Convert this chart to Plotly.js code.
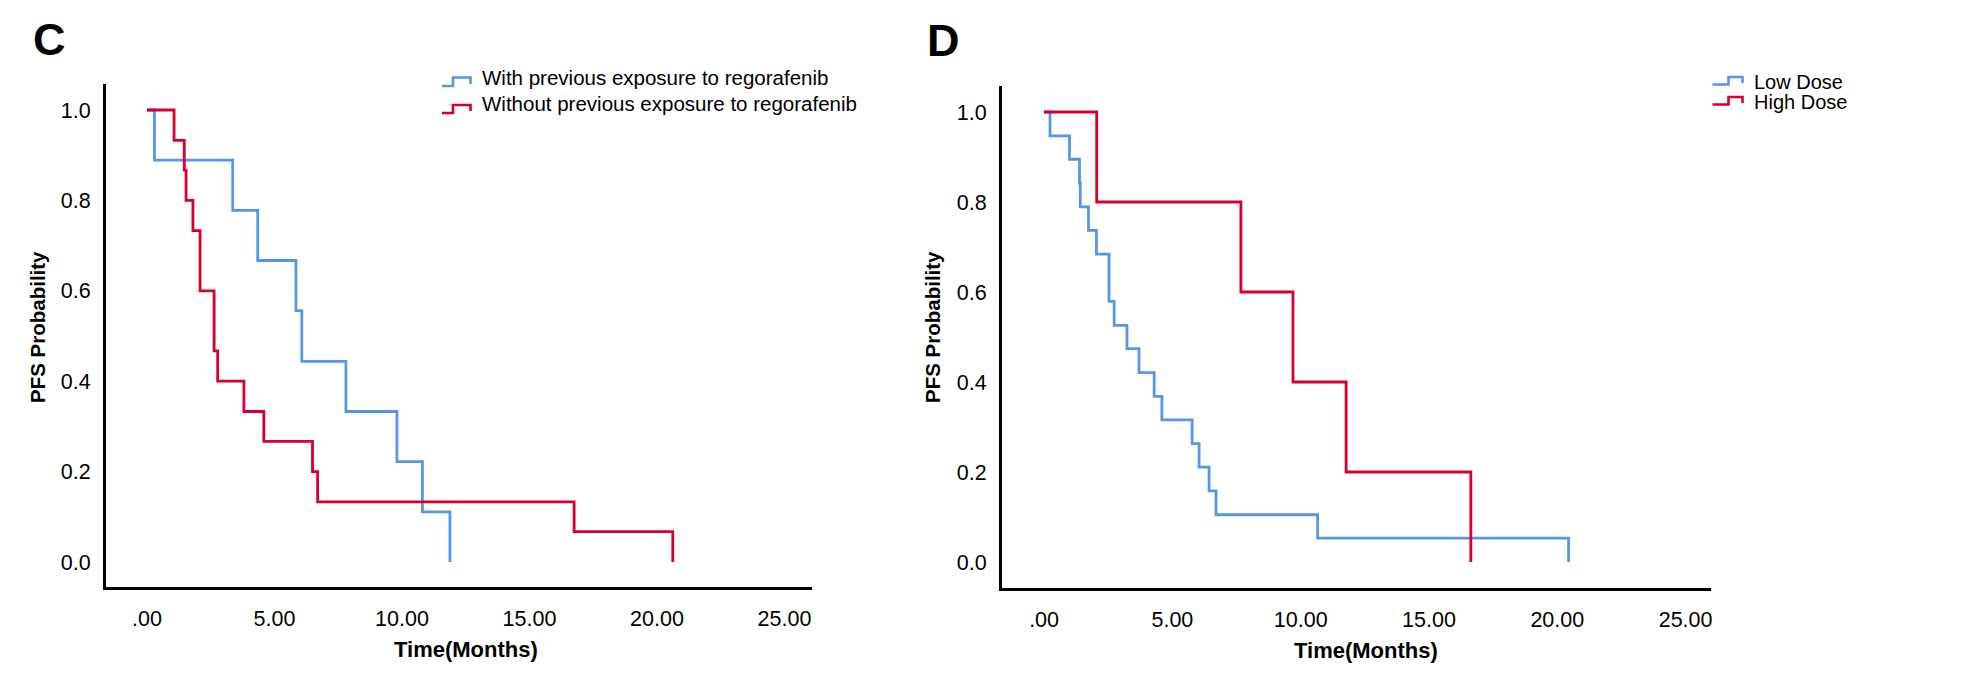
<!DOCTYPE html>
<html>
<head>
<meta charset="utf-8">
<script src="https://cdn.plot.ly/plotly-3.0.1.min.js"></script>
<style>
html,body{margin:0;padding:0;background:#fff;}
#chart{width:1986px;height:673px;}
</style>
</head>
<body>
<div id="chart"></div>
<script>
// ---- Data ----
const panelLetters = ['C', 'D'];
const xTickVals = [0, 5, 10, 15, 20, 25];
const xTickText = ['.00', '5.00', '10.00', '15.00', '20.00', '25.00'];
const yTickVals = [0, 0.2, 0.4, 0.6, 0.8, 1.0];
const yTickText = ['0.0', '0.2', '0.4', '0.6', '0.8', '1.0'];
const xTitle = 'Time(Months)';
const yTitle = 'PFS Probability';

// Panel C
const cSeriesNames = ['With previous exposure to regorafenib', 'Without previous exposure to regorafenib'];
const cWithTime = [0, 0.29, 3.36, 4.34, 5.84, 6.07, 7.80, 9.80, 10.80, 11.88];
const cWithSurv = [1, 0.889, 0.778, 0.667, 0.556, 0.444, 0.333, 0.222, 0.111, 0];
const cWithoutTime = [0, 1.06, 1.46, 1.53, 1.80, 2.08, 2.63, 2.77, 3.80, 4.58, 6.49, 6.69, 16.75, 20.62];
const cWithoutSurv = [1, 0.933, 0.867, 0.8, 0.733, 0.6, 0.467, 0.4, 0.333, 0.267, 0.2, 0.133, 0.067, 0];

// Panel D
const dSeriesNames = ['Low Dose', 'High Dose'];
const dLowTime = [0, 0.23, 0.99, 1.38, 1.41, 1.73, 2.04, 2.53, 2.73, 3.23, 3.70, 4.29, 4.59, 5.77, 6.04, 6.43, 6.70, 10.66, 20.44];
const dLowSurv = [1, 0.947, 0.895, 0.842, 0.789, 0.737, 0.684, 0.579, 0.526, 0.474, 0.421, 0.368, 0.316, 0.263, 0.211, 0.158, 0.105, 0.053, 0];
const dHighTime = [0, 2.05, 7.67, 9.70, 11.77, 16.63];
const dHighSurv = [1, 0.8, 0.6, 0.4, 0.2, 0];

// ---- Styling ----
const W = 1986, H = 673;
const BLUE = '#5597e6';
const RED = '#d5002f';
const FONT = '"Liberation Sans", Arial, Helvetica, sans-serif';
const LW = 2.8;
const px = x => x / W;
const py = y => 1 - y / H;

function stepTrace(x, y, color, xa, ya, name) {
  return {
    x: x, y: y, type: 'scatter', mode: 'lines', name: name,
    line: {shape: 'hv', color: color, width: LW},
    xaxis: xa, yaxis: ya, showlegend: false, hoverinfo: 'x+y'
  };
}

const data = [
  stepTrace(cWithTime, cWithSurv, BLUE, 'x', 'y', cSeriesNames[0]),
  stepTrace(cWithoutTime, cWithoutSurv, RED, 'x', 'y', cSeriesNames[1]),
  stepTrace(dLowTime, dLowSurv, BLUE, 'x2', 'y2', dSeriesNames[0]),
  stepTrace(dHighTime, dHighSurv, RED, 'x2', 'y2', dSeriesNames[1])
];

function xAxis(domain, range, anchor) {
  return {
    domain: domain, range: range, anchor: anchor,
    tickvals: xTickVals, ticktext: xTickText,
    showgrid: false, zeroline: false, showline: true,
    linecolor: '#000', linewidth: 3, ticks: '', ticklabelstandoff: 10,
    tickfont: {family: FONT, size: 21.5, color: '#000'}, fixedrange: true
  };
}
function yAxis(domain, range, anchor) {
  return {
    domain: domain, range: range, anchor: anchor,
    tickvals: yTickVals, ticktext: yTickText,
    showgrid: false, zeroline: false, showline: true,
    linecolor: '#000', linewidth: 3, ticks: '', ticklabelstandoff: 8,
    tickfont: {family: FONT, size: 21.5, color: '#000'}, fixedrange: true
  };
}

const annotations = [];
const shapes = [];
function addText(text, x, y, size, opts) {
  annotations.push(Object.assign({
    text: text, x: px(x), y: py(y), xref: 'paper', yref: 'paper',
    showarrow: false, font: {family: FONT, size: size, color: '#000'},
    xanchor: 'center', yanchor: 'middle'
  }, opts || {}));
}
// panel letters
addText('<b>' + panelLetters[0] + '</b>', 49, 39, 45);
addText('<b>' + panelLetters[1] + '</b>', 943, 40, 45);
// axis titles
addText('<b>' + yTitle + '</b>', 37, 327, 20.5, {textangle: -90});
addText('<b>' + yTitle + '</b>', 932, 327, 20.5, {textangle: -90});
addText('<b>' + xTitle + '</b>', 466, 649, 22);
addText('<b>' + xTitle + '</b>', 1366, 650, 22);

// legend icons (step glyph) + labels
function legendIcon(x0, xm, x1, yb, yt, ye, color) {
  const p = `M ${px(x0)} ${py(yb)} L ${px(xm)} ${py(yb)} L ${px(xm)} ${py(yt)} L ${px(x1)} ${py(yt)} L ${px(x1)} ${py(ye)}`;
  shapes.push({type: 'path', path: p, xref: 'paper', yref: 'paper',
    line: {color: color, width: 2.6}});
}
legendIcon(442, 453, 470.5, 86, 77.5, 84, BLUE);
legendIcon(442, 453, 470.5, 113, 105, 111, RED);
addText(cSeriesNames[0], 480, 77, 20.5, {xanchor: 'left'});
addText(cSeriesNames[1], 480, 103.5, 20.5, {xanchor: 'left'});
legendIcon(1712.5, 1728.5, 1742.5, 84.5, 77, 83, BLUE);
legendIcon(1712.5, 1728.5, 1742.5, 104.5, 97, 103, RED);
addText(dSeriesNames[0], 1751.5, 81.5, 20, {xanchor: 'left'});
addText(dSeriesNames[1], 1751.5, 101.5, 20, {xanchor: 'left'});

const layout = {
  width: W, height: H,
  margin: {l: 0, r: 0, t: 0, b: 0},
  paper_bgcolor: '#fff', plot_bgcolor: '#fff',
  showlegend: false,
  xaxis: xAxis([px(106), px(812)], [-1.61, 26.08], 'y'),
  yaxis: yAxis([py(587), py(84)], [-0.0553, 1.0575], 'x'),
  xaxis2: xAxis([px(1002), px(1711)], [-1.64, 25.99], 'y2'),
  yaxis2: yAxis([py(588), py(86)], [-0.0578, 1.0578], 'x2'),
  annotations: annotations,
  shapes: shapes,
  font: {family: FONT, color: '#000'}
};

Plotly.newPlot('chart', data, layout, {displayModeBar: false, staticPlot: true});
</script>
</body>
</html>
